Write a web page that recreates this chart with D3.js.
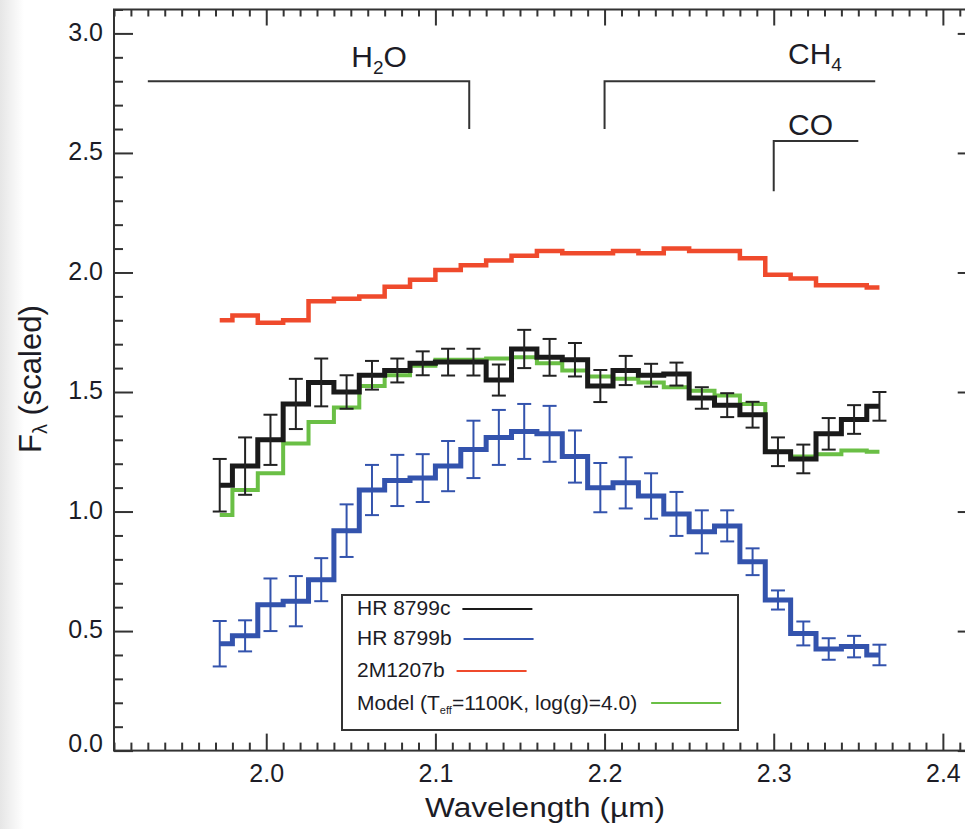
<!DOCTYPE html>
<html><head><meta charset="utf-8">
<script src="https://cdn.jsdelivr.net/npm/d3@7"></script>
<style>
body{margin:0;background:#fff;}
text{font-family:"Liberation Sans",Arial,Helvetica,sans-serif;fill:#1c1c26;}
</style>
</head><body>
<svg id="c" width="965" height="829"></svg>
<script>
// ---- data ----
const wavelength = [1.9725,1.9875,2.0025,2.0175,2.0325,2.0475,2.0625,2.0775,2.0925,2.1075,2.1225,2.1375,2.1525,2.1675,2.1825,2.1975,2.2125,2.2275,2.2425,2.2575,2.2725,2.2875,2.3025,2.3175,2.3325,2.3475,2.3625];
const hr8799c    = [1.11,1.19,1.30,1.45,1.54,1.50,1.57,1.59,1.62,1.625,1.625,1.55,1.68,1.645,1.635,1.525,1.59,1.57,1.575,1.475,1.445,1.405,1.25,1.22,1.325,1.385,1.44];
const hr8799cErr = [0.11,0.12,0.105,0.105,0.10,0.07,0.06,0.05,0.05,0.056,0.056,0.065,0.08,0.077,0.07,0.067,0.061,0.048,0.048,0.045,0.05,0.054,0.06,0.06,0.066,0.06,0.06];
const hr8799b    = [0.447,0.48,0.61,0.625,0.715,0.92,1.09,1.13,1.14,1.19,1.26,1.31,1.335,1.325,1.23,1.10,1.12,1.065,0.99,0.915,0.94,0.79,0.63,0.49,0.425,0.435,0.40];
const hr8799bErr = [0.095,0.065,0.11,0.105,0.09,0.11,0.105,0.107,0.10,0.105,0.12,0.115,0.115,0.117,0.109,0.103,0.107,0.095,0.092,0.09,0.065,0.056,0.04,0.05,0.045,0.045,0.043];
const m2m1207b   = [1.80,1.82,1.79,1.80,1.88,1.89,1.90,1.94,1.97,2.01,2.03,2.05,2.07,2.09,2.08,2.08,2.09,2.08,2.10,2.09,2.09,2.06,1.99,1.975,1.947,1.947,1.937];
const model      = [0.985,1.09,1.16,1.285,1.375,1.435,1.525,1.57,1.61,1.635,1.635,1.64,1.645,1.62,1.59,1.565,1.555,1.54,1.52,1.505,1.485,1.45,1.25,1.23,1.24,1.255,1.25];
const xTicks = [2.0,2.1,2.2,2.3,2.4];
const yTicks = [0.0,0.5,1.0,1.5,2.0,2.5,3.0];
const legendNames = ["HR 8799c","HR 8799b","2M1207b"];
const bands = [
  {name:"H2O", pts:[[1.93,2.8],[2.12,2.8],[2.12,2.6]]},
  {name:"CH4", pts:[[2.2,2.6],[2.2,2.8],[2.36,2.8]]},
  {name:"CO",  pts:[[2.3,2.34],[2.3,2.55],[2.35,2.55]]}
];

const C = {black:"#1a1a1a", blue:"#3353ad", red:"#ef4a2c", green:"#6abf45", axis:"#333"};

const svg = d3.select("#c");
// light grey left edge
const defs = svg.append("defs");
const g0 = defs.append("linearGradient").attr("id","edge").attr("x1","0").attr("x2","1");
g0.append("stop").attr("offset","0").attr("stop-color","#e6e6e6");
g0.append("stop").attr("offset","1").attr("stop-color","#ffffff");
svg.append("rect").attr("x",0).attr("y",0).attr("width",24).attr("height",829).attr("fill","url(#edge)");

const L = 114, T = 9.5, B = 750.6;
const x = d3.scaleLinear().domain([1.91,2.42]).range([L, L + 0.51*1691.6]);
const y = d3.scaleLinear().domain([0,3.1]).range([B, T]);
const R = x.range()[1];

// frame
svg.append("rect").attr("x",L).attr("y",T).attr("width",R-L).attr("height",B-T)
  .attr("fill","none").attr("stroke",C.axis).attr("stroke-width",2);

const xMinor = d3.range(191,243).map(d=>d/100).filter(d=>Math.round(d*100)%10!==0);
const yMinor = d3.range(0,32).map(d=>d/10).filter(d=>Math.round(d*10)%5!==0);

function styleAxis(g){
  g.select(".domain").remove();
  g.selectAll("line").attr("stroke",C.axis).attr("stroke-width",2);
  g.selectAll("text").attr("fill","#1c1c26").style("font-size","25px")
   .style("font-family",'"Liberation Sans",Arial,sans-serif');
}
// bottom
svg.append("g").attr("transform",`translate(0,${B})`)
  .call(d3.axisBottom(x).tickValues(xTicks).tickSize(-17).tickPadding(13.5).tickFormat(d3.format(".1f")))
  .call(styleAxis);
svg.append("g").attr("transform",`translate(0,${B})`)
  .call(d3.axisBottom(x).tickValues(xMinor).tickSize(-8).tickFormat(""))
  .call(styleAxis);
// top
svg.append("g").attr("transform",`translate(0,${T})`)
  .call(d3.axisTop(x).tickValues(xTicks).tickSize(-16).tickFormat(""))
  .call(styleAxis);
svg.append("g").attr("transform",`translate(0,${T})`)
  .call(d3.axisTop(x).tickValues(xMinor).tickSize(-7).tickFormat(""))
  .call(styleAxis);
// left
const ly = svg.append("g").attr("transform",`translate(${L},0)`)
  .call(d3.axisLeft(y).tickValues(yTicks).tickSize(-19).tickPadding(11).tickFormat(d3.format(".1f")))
  .call(styleAxis);
ly.selectAll("text").attr("dy", d => d===0 ? "0.02em" : "0.27em");
svg.append("g").attr("transform",`translate(${L},0)`)
  .call(d3.axisLeft(y).tickValues(yMinor).tickSize(-9).tickFormat(""))
  .call(styleAxis);
// right
svg.append("g").attr("transform",`translate(${R},0)`)
  .call(d3.axisRight(y).tickValues(yTicks).tickSize(-19).tickFormat(""))
  .call(styleAxis);
svg.append("g").attr("transform",`translate(${R},0)`)
  .call(d3.axisRight(y).tickValues(yMinor).tickSize(-9).tickFormat(""))
  .call(styleAxis);

// axis titles
svg.append("text").attr("x",425).attr("y",817).style("font-size","27px")
  .attr("textLength",240).attr("lengthAdjust","spacingAndGlyphs")
  .text("Wavelength (\u00b5m)");
const yl = svg.append("text").attr("transform","translate(40.5,453) rotate(-90)").style("font-size","31px");
yl.append("tspan").text("F");
yl.append("tspan").text("\u03bb").style("font-size","20px").attr("dy",6);
yl.append("tspan").text(" (scaled)").attr("dy",-6);

// band annotations
const line = d3.line().x(d=>x(d[0])).y(d=>y(d[1]));
svg.append("g").selectAll("path").data(bands).join("path")
  .attr("d",d=>line(d.pts)).attr("fill","none").attr("stroke",C.axis).attr("stroke-width",2);
const t1 = svg.append("text").attr("x",379).attr("y",67).attr("text-anchor","middle").style("font-size","30px");
t1.append("tspan").text("H");
t1.append("tspan").text("2").style("font-size","19px").attr("dy",7);
t1.append("tspan").text("O").attr("dy",-7);
const t2 = svg.append("text").attr("x",788).attr("y",64).style("font-size","30px");
t2.append("tspan").text("CH");
t2.append("tspan").text("4").style("font-size","19px").attr("dy",7);
svg.append("text").attr("x",788).attr("y",135).style("font-size","30px").text("CO");

// step spectra
const step = vals => d3.line().curve(d3.curveStep)
  .x((d,i)=>x(wavelength[i])).y(d=>y(d))(vals);

svg.append("path").attr("d",step(m2m1207b)).attr("fill","none").attr("stroke",C.red).attr("stroke-width",4.5);
svg.append("path").attr("d",step(model)).attr("fill","none").attr("stroke",C.green).attr("stroke-width",4);
svg.append("path").attr("d",step(hr8799c)).attr("fill","none").attr("stroke",C.black).attr("stroke-width",5);
svg.append("path").attr("d",step(hr8799b)).attr("fill","none").attr("stroke",C.blue).attr("stroke-width",5);

function errorBars(vals, errs, color){
  const g = svg.append("g").attr("stroke",color).attr("stroke-width",2).attr("fill","none");
  vals.forEach((v,i)=>{
    const cx = x(wavelength[i]), y1 = y(v+errs[i]), y2 = y(v-errs[i]);
    g.append("line").attr("x1",cx).attr("x2",cx).attr("y1",y1).attr("y2",y2);
    g.append("line").attr("x1",cx-7).attr("x2",cx+7).attr("y1",y1).attr("y2",y1);
    g.append("line").attr("x1",cx-7).attr("x2",cx+7).attr("y1",y2).attr("y2",y2);
  });
}
errorBars(hr8799c, hr8799cErr, "#222");
errorBars(hr8799b, hr8799bErr, C.blue);

// legend
svg.append("rect").attr("x",342).attr("y",595).attr("width",396).attr("height",135)
  .attr("fill","#fff").attr("stroke",C.axis).attr("stroke-width",2);
const legColors = [C.black, C.blue, C.red];
const legBase = [615,645,677];
legendNames.forEach((n,i)=>{
  const t = svg.append("text").attr("x",357).attr("y",legBase[i]).style("font-size","21px").text(n);
  const w = t.node().getComputedTextLength();
  svg.append("line").attr("x1",357+w+12).attr("x2",357+w+82).attr("y1",legBase[i]-6).attr("y2",legBase[i]-6)
    .attr("stroke",legColors[i]).attr("stroke-width",2);
});
const mt = svg.append("text").attr("x",357).attr("y",710).style("font-size","21px");
mt.append("tspan").text("Model (T");
mt.append("tspan").text("eff").style("font-size","11px").attr("dy",4);
mt.append("tspan").text("=1100K, log(g)=4.0)").attr("dy",-4);
const mw = mt.node().getComputedTextLength();
svg.append("line").attr("x1",357+mw+14).attr("x2",357+mw+84).attr("y1",703).attr("y2",703)
  .attr("stroke",C.green).attr("stroke-width",2);
</script>
</body></html>
